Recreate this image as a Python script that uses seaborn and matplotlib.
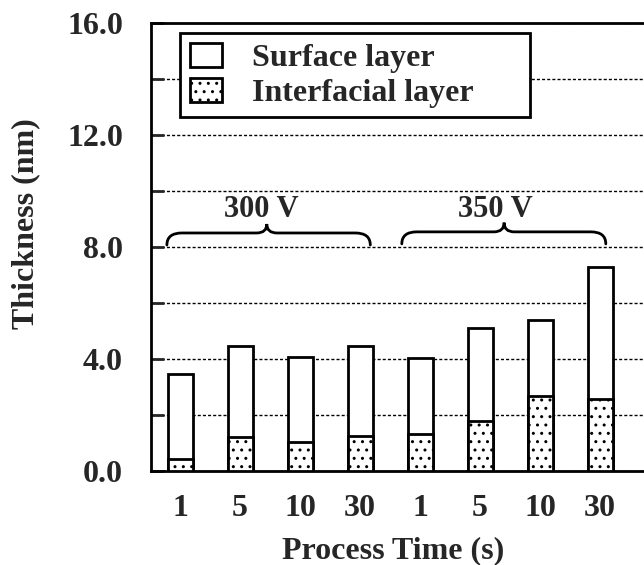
import numpy as np
import pandas as pd
import matplotlib
matplotlib.use("Agg")
import matplotlib.pyplot as plt
import seaborn as sns
from matplotlib.path import Path
from matplotlib.patches import PathPatch

# ---- data ----
voltages = ["300 V", "300 V", "300 V", "300 V", "350 V", "350 V", "350 V", "350 V"]
time_labels = ["1", "5", "10", "30", "1", "5", "10", "30"]
total_thickness = [3.46, 4.47, 4.05, 4.46, 4.02, 5.08, 5.38, 7.29]
interfacial_thickness = [0.42, 1.22, 1.04, 1.24, 1.32, 1.78, 2.68, 2.56]
series_labels = ["Surface layer", "Interfacial layer"]
y_major = [0.0, 4.0, 8.0, 12.0, 16.0]
y_minor = [2.0, 6.0, 10.0, 14.0]
xlabel = "Process Time (s)"
ylabel = "Thickness (nm)"

keys = [f"{v} / {t} s" for v, t in zip(voltages, time_labels)]
df = pd.DataFrame({"key": keys, "total": total_thickness,
                   "interfacial": interfacial_thickness})

sns.set_style("ticks")
plt.rcParams["font.family"] = ["Liberation Serif", "DejaVu Serif"]
plt.rcParams["font.weight"] = "bold"
plt.rcParams["hatch.linewidth"] = 1.0
plt.rcParams["hatch.color"] = "black"

W, H = 644, 565
fig = plt.figure(figsize=(W / 100, H / 100), dpi=100)
x_left, x_right = -0.49, 7.9
ax_l = 150.7 / W
ax_b = (H - 470.7) / H
ax_t = (H - 22.7) / H
ax_w = (x_right - x_left) * 60 / W
ax = fig.add_axes([ax_l, ax_b, ax_w, ax_t - ax_b])

FS = 23
bar_kw = dict(width=0.42, edgecolor="black", linewidth=2, zorder=3)
sns.barplot(data=df, x="key", y="total", order=keys, color="white",
            saturation=1, ax=ax, label=series_labels[0], **bar_kw)
sns.barplot(data=df, x="key", y="interfacial", order=keys, color="white",
            saturation=1, ax=ax, label=series_labels[1], hatch="..", **bar_kw)

ax.set_xlim(x_left, x_right)
ax.set_ylim(0, 16)
ax.set_xticks(range(len(time_labels)))
ax.set_xticklabels(time_labels, fontsize=FS, fontweight="bold")
ax.set_yticks(y_major)
ax.set_yticklabels([f"{v:.1f}" for v in y_major], fontsize=FS, fontweight="bold")
ax.set_yticks(y_minor, minor=True)
ax.tick_params(axis="x", length=0, pad=17)
ax.tick_params(axis="y", which="both", direction="in", length=9, width=2,
               pad=20, left=True, right=False)

ax.grid(axis="y", which="both", color="black", linewidth=1,
        linestyle=(0, (2.2, 1.5)), zorder=0)
ax.set_axisbelow(True)
for side in ["left", "top", "bottom"]:
    ax.spines[side].set_linewidth(2)
    ax.spines[side].set_color("black")
ax.spines["right"].set_visible(False)

ax.set_xlabel(xlabel, fontsize=FS, fontweight="bold")
ax.set_ylabel(ylabel, fontsize=FS, fontweight="bold")
ax.xaxis.set_label_coords(393 / W, 1 - 558 / H, transform=fig.transFigure)
ax.xaxis.label.set_va("baseline")
ax.yaxis.set_label_coords(26 / W, 1 - 223.5 / H, transform=fig.transFigure)
ax.yaxis.label.set_va("center")

# braces + group labels
def brace(x0, x1, xm, ye, yf, yt, rx=0.25, rm=0.17):
    verts = [(x0, ye), (x0, yf), (x0 + rx, yf), (xm - rm, yf),
             (xm, yf), (xm, yt), (xm, yf), (xm + rm, yf),
             (x1 - rx, yf), (x1, yf), (x1, ye)]
    codes = [Path.MOVETO, Path.CURVE3, Path.CURVE3, Path.LINETO,
             Path.CURVE3, Path.CURVE3, Path.CURVE3, Path.CURVE3,
             Path.LINETO, Path.CURVE3, Path.CURVE3]
    ax.add_patch(PathPatch(Path(verts, codes), fill=False, lw=2,
                           edgecolor="black", zorder=4, capstyle="round"))

brace(-0.22, 3.17, 1.445, 8.06, 8.49, 8.81)
brace(3.695, 7.095, 5.40, 8.10, 8.53, 8.86)
ax.text(1.36, 9.05, "300 V", ha="center", va="baseline", fontsize=22,
        fontweight="bold", zorder=5)
ax.text(5.25, 9.05, "350 V", ha="center", va="baseline", fontsize=22,
        fontweight="bold", zorder=5)

# legend
handles = [ax.containers[0], ax.containers[1]]
leg = ax.legend(handles, series_labels, loc="upper left",
                bbox_to_anchor=(180 / W, 1 - 119 / H, 350 / W, 86 / H),
                bbox_transform=fig.transFigure, mode="expand",
                borderaxespad=0, fontsize=FS, frameon=True, fancybox=False,
                framealpha=1, edgecolor="black", handlelength=1.0,
                handleheight=0.78, handletextpad=0.95, labelspacing=0.15,
                borderpad=0.3, prop={"weight": "bold", "size": FS})
leg.get_frame().set_linewidth(2)
leg.set_zorder(6)

fig.savefig("out.png", dpi=100)
